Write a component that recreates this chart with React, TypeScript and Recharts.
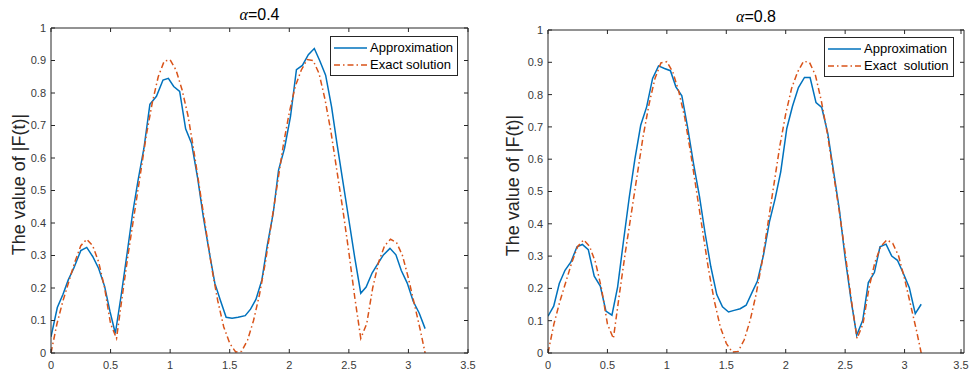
import React from "react";
import { LineChart, Line, XAxis, YAxis, Legend } from "recharts";

// ---------------------------------------------------------------------------
// Data
// ---------------------------------------------------------------------------
const xTicks = [0, 0.5, 1, 1.5, 2, 2.5, 3, 3.5];
const yTicks = [0, 0.1, 0.2, 0.3, 0.4, 0.5, 0.6, 0.7, 0.8, 0.9, 1];

const exactT = [
  0, 0.05, 0.1, 0.15, 0.2, 0.25, 0.3, 0.35, 0.4, 0.45,
  0.5, 0.55, 0.6, 0.65, 0.7, 0.75, 0.8, 0.85, 0.9, 0.95,
  1.0, 1.05, 1.1, 1.15, 1.2, 1.25, 1.3, 1.35, 1.4, 1.45,
  1.5, 1.55, 1.6, 1.65, 1.7, 1.75, 1.8, 1.85, 1.9, 1.95,
  2.0, 2.05, 2.1, 2.15, 2.2, 2.25, 2.3, 2.35, 2.4, 2.45,
  2.5, 2.55, 2.6, 2.65, 2.7, 2.75, 2.8, 2.85, 2.9, 2.95,
  3.0, 3.05, 3.1, 3.14,
];
const exactV = [
  0, 0.09, 0.16, 0.22, 0.28, 0.33, 0.35, 0.33, 0.28, 0.2,
  0.09, 0.045, 0.18, 0.31, 0.43, 0.55, 0.67, 0.77, 0.85, 0.898,
  0.902, 0.87, 0.81, 0.73, 0.62, 0.5, 0.38, 0.26, 0.16, 0.08,
  0.03, 0.003, 0.005, 0.04, 0.1, 0.18, 0.28, 0.4, 0.52, 0.64,
  0.74, 0.82, 0.87, 0.903, 0.9, 0.86, 0.78, 0.68, 0.56, 0.44,
  0.31, 0.17, 0.045, 0.09, 0.2, 0.28, 0.33, 0.35, 0.34, 0.3,
  0.23, 0.15, 0.07, 0,
];

// alpha = 0.4
const approx04T = [
  0, 0.053, 0.1, 0.145, 0.19, 0.25, 0.3, 0.35, 0.4, 0.45,
  0.495, 0.54, 0.59, 0.64, 0.685, 0.73, 0.78, 0.83, 0.885, 0.94,
  0.985, 1.03, 1.08, 1.13, 1.18, 1.23, 1.28, 1.33, 1.375, 1.42,
  1.47, 1.52, 1.57, 1.63, 1.675, 1.72, 1.77, 1.815, 1.865, 1.91,
  1.96, 2.01, 2.06, 2.11, 2.16, 2.21, 2.255, 2.305, 2.355, 2.4,
  2.45, 2.5, 2.55, 2.6, 2.645, 2.695, 2.745, 2.79, 2.845, 2.895,
  2.94, 2.99, 3.04, 3.09, 3.14,
];
const approx04V = [
  0.05, 0.14, 0.18, 0.225, 0.26, 0.315, 0.325, 0.297, 0.26, 0.205,
  0.128, 0.06, 0.18, 0.31, 0.43, 0.53, 0.63, 0.765, 0.79, 0.84,
  0.845, 0.82, 0.805, 0.69, 0.645, 0.54, 0.415, 0.307, 0.215, 0.164,
  0.11, 0.107, 0.11, 0.115, 0.135, 0.165, 0.225, 0.33, 0.43, 0.563,
  0.63, 0.727, 0.872, 0.885, 0.918, 0.937, 0.9, 0.855, 0.757, 0.645,
  0.527, 0.41, 0.292, 0.184, 0.203, 0.246, 0.276, 0.302, 0.322, 0.302,
  0.254, 0.215, 0.159, 0.123, 0.075,
];

// alpha = 0.8
const approx08T = [
  0, 0.048, 0.095, 0.143, 0.193, 0.244, 0.289, 0.339, 0.389, 0.44,
  0.487, 0.538, 0.586, 0.636, 0.684, 0.731, 0.78, 0.83, 0.88, 0.93,
  0.98, 1.03, 1.076, 1.126, 1.174, 1.224, 1.275, 1.322, 1.37, 1.42,
  1.468, 1.519, 1.566, 1.617, 1.667, 1.715, 1.762, 1.813, 1.863, 1.911,
  1.958, 2.009, 2.057, 2.107, 2.158, 2.205, 2.255, 2.303, 2.354, 2.401,
  2.452, 2.499, 2.55, 2.597, 2.648, 2.695, 2.746, 2.793, 2.844, 2.892,
  2.94, 2.99, 3.04, 3.09, 3.14,
];
const approx08V = [
  0.114, 0.145, 0.215, 0.256, 0.282, 0.329, 0.336, 0.32, 0.238, 0.207,
  0.13, 0.117, 0.205, 0.349, 0.483, 0.6, 0.705, 0.762, 0.85, 0.889,
  0.881, 0.874, 0.824, 0.796, 0.7, 0.587, 0.483, 0.37, 0.267, 0.181,
  0.143, 0.127, 0.132, 0.137, 0.148, 0.186, 0.223, 0.303, 0.406, 0.478,
  0.561, 0.695, 0.764, 0.822, 0.853, 0.853, 0.775, 0.76, 0.68, 0.566,
  0.442, 0.298, 0.163, 0.055, 0.101, 0.218, 0.249, 0.329, 0.337, 0.3,
  0.287, 0.246, 0.202, 0.122, 0.151,
];

// ---------------------------------------------------------------------------
// Styling
// ---------------------------------------------------------------------------
const AXIS = "#262626";
const TICK = "#3a3a3a";
const BLUE = "#0072BD";
const ORANGE = "#D95319";
const DASHDOT = "6 3 1.5 3";
const FONT = "'Liberation Sans', Arial, Helvetica, sans-serif";
const TL = 4; // inward tick length
const Y_GAP = 5; // gap between y-axis and its labels
const X_GAP = 8; // gap between x-axis and its labels

const zip = (t: number[], v: number[]) => t.map((x, i) => ({ t: x, v: v[i] }));

// ---------------------------------------------------------------------------
// Custom ticks: MATLAB-style inward tick marks (box on)
// ---------------------------------------------------------------------------
function LeftTick(props: any) {
  const { x, y, payload } = props;
  const ax = x + Y_GAP;
  return (
    <g>
      <line x1={ax} y1={y} x2={ax + TL} y2={y} stroke={AXIS} />
      <text x={x} y={y} dy="0.355em" textAnchor="end" fill={TICK} fontSize={11} fontFamily={FONT}>
        {payload.value}
      </text>
    </g>
  );
}

function BottomTick(props: any) {
  const { x, y, payload } = props;
  const ay = y - X_GAP;
  return (
    <g>
      <line x1={x} y1={ay} x2={x} y2={ay - TL} stroke={AXIS} />
      <text x={x} y={y} dy="0.71em" textAnchor="middle" fill={TICK} fontSize={11} fontFamily={FONT}>
        {payload.value}
      </text>
    </g>
  );
}

function TopTick(props: any) {
  const { x, y } = props;
  return <line x1={x} y1={y} x2={x} y2={y + TL} stroke={AXIS} />;
}

function RightTick(props: any) {
  const { x, y } = props;
  return <line x1={x} y1={y} x2={x - TL} y2={y} stroke={AXIS} />;
}

// ---------------------------------------------------------------------------
// Legend box
// ---------------------------------------------------------------------------
function LegendBox({ exactLabel }: { exactLabel: string }) {
  const rows = [
    { label: "Approximation", color: BLUE, dash: undefined as string | undefined },
    { label: exactLabel, color: ORANGE, dash: DASHDOT },
  ];
  return (
    <div
      style={{
        border: `1px solid ${AXIS}`,
        background: "#fff",
        padding: "2px 4px 2px 3px",
        fontFamily: FONT,
        fontSize: 13,
        color: "#000",
        lineHeight: "17px",
      }}
    >
      {rows.map((r) => (
        <div key={r.label} style={{ display: "flex", alignItems: "center", height: 17 }}>
          <svg width={33} height={6} style={{ display: "block" }}>
            <line x1={0} y1={3} x2={33} y2={3} stroke={r.color} strokeWidth={1.5} strokeDasharray={r.dash} />
          </svg>
          <span style={{ marginLeft: 3, whiteSpace: "pre" }}>{r.label}</span>
        </div>
      ))}
    </div>
  );
}

// ---------------------------------------------------------------------------
// One subplot
// ---------------------------------------------------------------------------
interface PanelProps {
  left: number;
  width: number;
  axisW: number;
  marginTop: number;
  marginRight: number;
  alpha: string;
  titleTop: number;
  labelX: number;
  approx: { t: number; v: number }[];
  exact: { t: number; v: number }[];
  exactLabel: string;
  legendLeft: number;
  legendTop: number;
}

function Panel(p: PanelProps) {
  const height = 376;
  return (
    <div style={{ position: "absolute", left: p.left, top: 0, width: p.width, height }}>
      <div
        style={{
          position: "absolute",
          left: p.axisW,
          width: p.width - p.axisW - p.marginRight,
          top: p.titleTop,
          textAlign: "center",
          fontFamily: FONT,
          fontSize: 16,
          lineHeight: "18px",
          color: "#000",
        }}
      >
        <span style={{ fontFamily: "'Liberation Serif', 'DejaVu Serif', serif", fontStyle: "italic" }}>α</span>
        =0.{p.alpha}
      </div>
      <LineChart
        width={p.width}
        height={height}
        // the 1px top/right axes sit inside the margin
        margin={{ top: p.marginTop - 1, right: p.marginRight - 1, bottom: 0, left: 0 }}
      >
        <XAxis
          xAxisId="b"
          type="number"
          dataKey="t"
          domain={[0, 3.5]}
          ticks={xTicks}
          height={23}
          tickSize={0}
          tickMargin={X_GAP}
          tick={<BottomTick />}
          axisLine={{ stroke: AXIS }}
          tickLine={false}
          allowDataOverflow
        />
        <XAxis
          xAxisId="top"
          orientation="top"
          type="number"
          dataKey="t"
          domain={[0, 3.5]}
          ticks={xTicks}
          height={1}
          tickSize={0}
          tickMargin={0}
          tick={<TopTick />}
          axisLine={{ stroke: AXIS }}
          tickLine={false}
          allowDataOverflow
        />
        <YAxis
          yAxisId="l"
          type="number"
          domain={[0, 1]}
          ticks={yTicks}
          width={p.axisW}
          tickSize={0}
          tickMargin={Y_GAP}
          tick={<LeftTick />}
          axisLine={{ stroke: AXIS }}
          tickLine={false}
          allowDataOverflow
          label={(lp: any) => {
            const vb = lp.viewBox || { x: 0, y: p.marginTop, height: 325 };
            const cx = vb.x + p.labelX;
            const cy = vb.y + vb.height / 2 - 6;
            return (
              <text
                x={cx}
                y={cy}
                transform={`rotate(-90 ${cx} ${cy})`}
                textAnchor="middle"
                dominantBaseline="central"
                fill={AXIS}
                fontSize={18}
                fontFamily={FONT}
              >
                The value of |F(t)|
              </text>
            );
          }}
        />
        <YAxis
          yAxisId="r"
          orientation="right"
          type="number"
          domain={[0, 1]}
          ticks={yTicks}
          width={1}
          tickSize={0}
          tickMargin={0}
          tick={<RightTick />}
          axisLine={{ stroke: AXIS }}
          tickLine={false}
          allowDataOverflow
        />
        {/* invisible series bound to the top/right axes so the box sides are drawn */}
        <Line
          xAxisId="top"
          yAxisId="r"
          data={p.exact}
          dataKey="v"
          stroke="none"
          dot={false}
          activeDot={false}
          legendType="none"
          isAnimationActive={false}
        />
        <Line
          xAxisId="b"
          yAxisId="l"
          data={p.approx}
          dataKey="v"
          name="Approximation"
          type="linear"
          stroke={BLUE}
          strokeWidth={1.5}
          dot={false}
          isAnimationActive={false}
        />
        <Line
          xAxisId="b"
          yAxisId="l"
          data={p.exact}
          dataKey="v"
          name={p.exactLabel}
          type="linear"
          stroke={ORANGE}
          strokeWidth={1.5}
          strokeDasharray={DASHDOT}
          dot={false}
          isAnimationActive={false}
        />
        <Legend
          layout="vertical"
          align="center"
          verticalAlign="middle"
          wrapperStyle={{ left: p.legendLeft, top: p.legendTop, width: "auto", height: "auto" }}
          content={() => <LegendBox exactLabel={p.exactLabel} />}
        />
      </LineChart>
    </div>
  );
}

export default function App() {
  const exact = zip(exactT, exactV);
  return (
    <div style={{ position: "absolute", left: 0, top: 0, width: 971, height: 376, background: "#fff" }}>
      <Panel
        left={0}
        width={480}
        axisW={51}
        marginTop={28}
        marginRight={12}
        alpha="4"
        titleTop={6}
        labelX={19}
        approx={zip(approx04T, approx04V)}
        exact={exact}
        exactLabel="Exact solution"
        legendLeft={330}
        legendTop={36}
      />
      <Panel
        left={490}
        width={481}
        axisW={58}
        marginTop={30}
        marginRight={7}
        alpha="8"
        titleTop={8}
        labelX={23}
        approx={zip(approx08T, approx08V)}
        exact={exact}
        exactLabel="Exact  solution"
        legendLeft={334}
        legendTop={37}
      />
    </div>
  );
}
